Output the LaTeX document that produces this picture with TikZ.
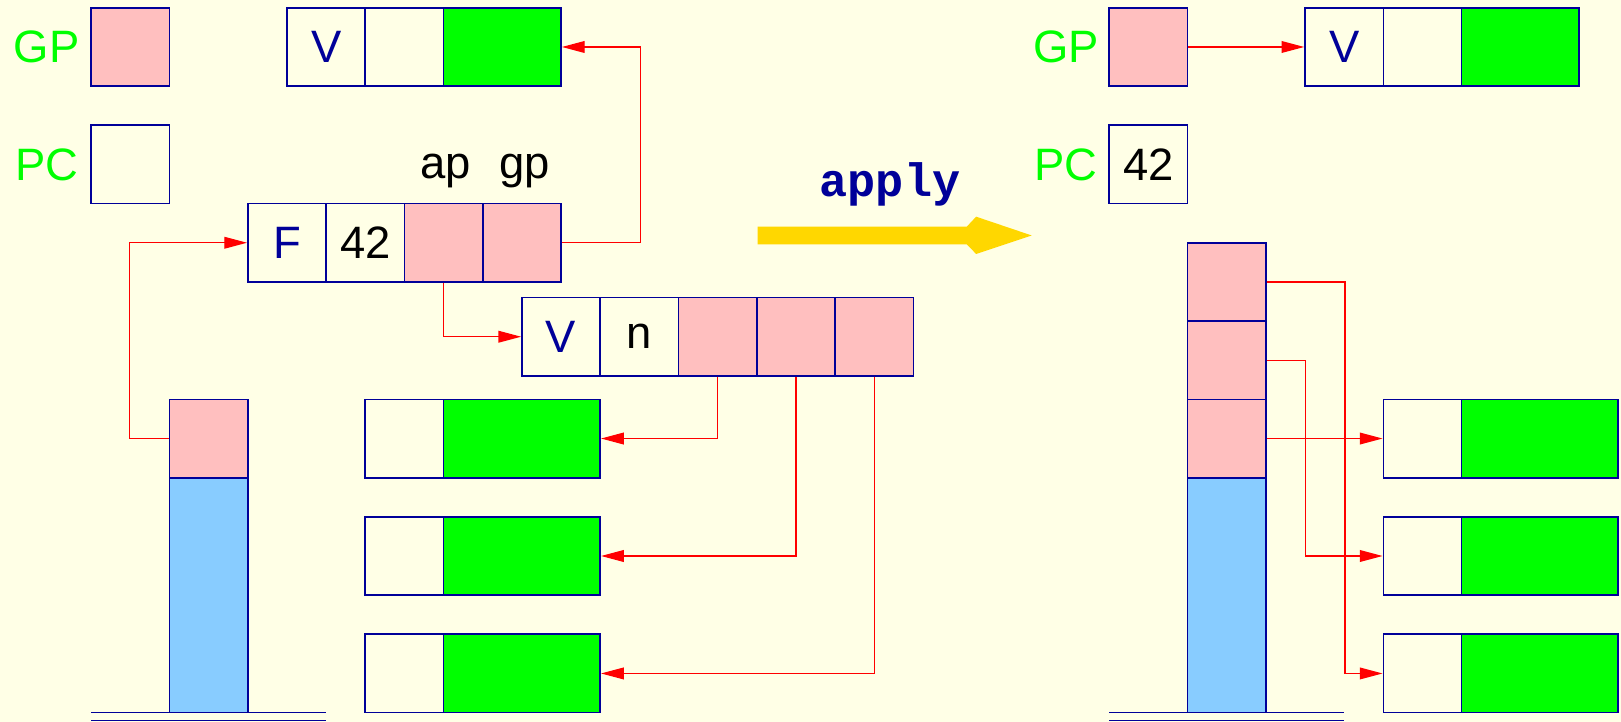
\documentclass[tikz,border=0pt]{standalone}
\usepackage{fontspec}
\setmainfont{Liberation Sans}
\setmonofont{Liberation Mono}
\usetikzlibrary{positioning}
\usetikzlibrary{arrows.meta}
\definecolor{bgyel}{HTML}{FFFFE6}
\definecolor{cpink}{HTML}{FFBFBF}
\definecolor{cgreen}{HTML}{00FF00}
\definecolor{cblue}{HTML}{88CCFF}
\definecolor{mnavy}{rgb}{0.0, 0.0, 0.6}
\definecolor{mgold}{HTML}{FFD700}
\tikzset{cell/.style = {draw=mnavy, line width=0.6pt, minimum width=1cm,
                        minimum height=1cm, inner sep=0,
                        font=\fontsize{16.5}{20}\selectfont}}
\tikzset{ptrc/.style = {cell, fill=cpink}}
\tikzset{valc/.style = {cell, fill=cgreen, minimum width=2cm}}
\tikzset{stkc/.style = {cell, fill=cblue, minimum height=3cm}}
\tikzset{reg/.style = {text=cgreen, inner sep=0, font=\fontsize{16.5}{20}\selectfont}}
\tikzset{txt/.style = {inner sep=0, font=\fontsize{16.5}{20}\selectfont}}
\tikzset{ptr/.style = {red, line width=0.45pt,
                       -{Triangle[length=2.9mm, width=1.5mm]}}}
\tikzset{floor/.style = {draw=mnavy, line width=0.6pt}}

\begin{document}
\begin{tikzpicture}[x=1cm, y=-1cm]
        \fill[bgyel] (-0.165,-0.1) rectangle (20.535,9.115);
        % before
        \node[reg] (gpLt) at (0.43,0.5) {GP};
        \node[ptrc] (gpL) at (1.5,0.5) {};
        \node[reg] (pcLt) at (0.43,2.0) {PC};
        \node[cell] (pcL) at (1.5,2.0) {};
        \node[cell, text=mnavy] (vt1) at (4,0.5) {V};
        \node[cell] (vt2) at (5,0.5) {};
        \node[valc, minimum width=1.5cm] (vt3) at (6.25,0.5) {};
        \node[cell, text=mnavy] (f1) at (3.5,3) {F};
        \node[cell] (f2) at (4.5,3) {42};
        \node[ptrc] (f3) at (5.5,3) {};
        \node[ptrc] (f4) at (6.5,3) {};
        \node[txt] (ap) at (5.53,2.09) {ap};
        \node[txt] (gp) at (6.53,2.09) {gp};
        \node[cell, text=mnavy] (vn1) at (7,4.2) {V};
        \node[cell] (vn2) at (8,4.2) {n};
        \node[ptrc] (vn3) at (9,4.2) {};
        \node[ptrc] (vn4) at (10,4.2) {};
        \node[ptrc] (vn5) at (11,4.2) {};
        \node[cell] (gl1a) at (5,5.5) {};
        \node[valc] (gl1b) at (6.5,5.5) {};
        \node[cell] (gl2a) at (5,7) {};
        \node[valc] (gl2b) at (6.5,7) {};
        \node[cell] (gl3a) at (5,8.5) {};
        \node[valc] (gl3b) at (6.5,8.5) {};
        \node[ptrc] (skL1) at (2.5,5.5) {};
        \node[stkc] (skLb) at (2.5,7.5) {};
        \draw[floor] (1,9) -- (4,9) (1,9.1) -- (4,9.1);
        \draw[ptr] (f4.east) -- ++(1,0) |- (vt3.east);
        \draw[ptr] (skL1.west) -- ++(-0.5,0) |- (f1.west);
        \draw[ptr] (f3.south) |- (vn1.west);
        \draw[ptr] (vn3.south) |- (gl1b.east);
        \draw[ptr] (vn4.south) |- (gl2b.east);
        \draw[ptr] (vn5.south) |- (gl3b.east);
        % apply
        \node[font=\fontsize{17}{20}\selectfont\ttfamily\bfseries, text=mnavy,
              inner sep=0] (apl) at (11.2,2.25) {apply};
        \fill[mgold] (9.51,2.795) -- (12.18,2.795) -- (12.30,2.667) -- (13.01,2.907)
          -- (12.30,3.143) -- (12.18,3.02) -- (9.51,3.02) -- cycle;
        % after
        \node[reg] (gpRt) at (13.45,0.5) {GP};
        \node[ptrc] (gpR) at (14.5,0.5) {};
        \node[reg] (pcRt) at (13.45,2.0) {PC};
        \node[cell] (pcR) at (14.5,2.0) {42};
        \node[cell, text=mnavy] (vr1) at (17,0.5) {V};
        \node[cell] (vr2) at (18,0.5) {};
        \node[valc, minimum width=1.5cm] (vr3) at (19.25,0.5) {};
        \node[ptrc] (skR1) at (15.5,3.5) {};
        \node[ptrc] (skR2) at (15.5,4.5) {};
        \node[ptrc] (skR3) at (15.5,5.5) {};
        \node[stkc] (skRb) at (15.5,7.5) {};
        \draw[floor] (14,9) -- (17,9) (14,9.1) -- (17,9.1);
        \node[cell] (gr1a) at (18,5.5) {};
        \node[valc] (gr1b) at (19.5,5.5) {};
        \node[cell] (gr2a) at (18,7) {};
        \node[valc] (gr2b) at (19.5,7) {};
        \node[cell] (gr3a) at (18,8.5) {};
        \node[valc] (gr3b) at (19.5,8.5) {};
        \draw[ptr] (gpR.east) -- (vr1.west);
        \draw[ptr] (skR1.east) -- ++(1,0) |- (gr3a.west);
        \draw[ptr] (skR2.east) -- ++(0.5,0) |- (gr2a.west);
        \draw[ptr] (skR3.east) -- (gr1a.west);
      \end{tikzpicture}
\end{document}
